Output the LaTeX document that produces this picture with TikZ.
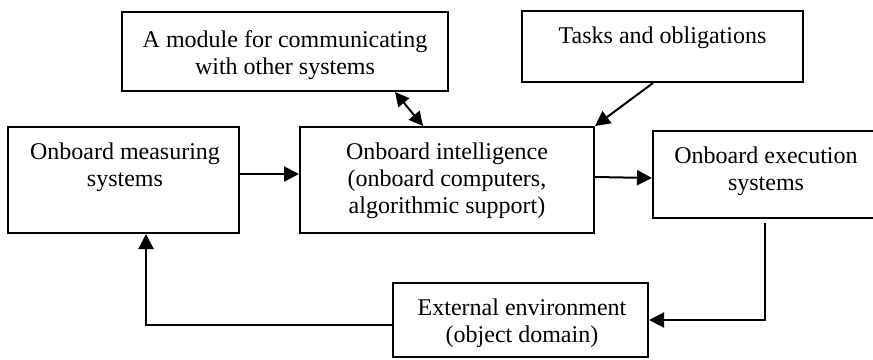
\documentclass[tikz,border=0pt]{standalone}
\usepackage{fontspec}
\setmainfont{Liberation Serif}
\usetikzlibrary{arrows.meta}
\begin{document}
\begin{tikzpicture}[x=0.5pt,y=-0.5pt,
  box/.style={draw, line width=1pt, inner sep=0pt, rectangle},
  lbl/.style={align=center, inner sep=0pt, font=\fontsize{12}{13.5}\selectfont, anchor=base},
  arr/.style={line width=1pt, -{Triangle[length=7.5pt,width=7.5pt]}},
  darr/.style={line width=1pt, {Triangle[length=7pt,width=7pt]}-{Triangle[length=7pt,width=7pt]}}]
\useasboundingbox (0,0) rectangle (873,359);
% boxes
\node[box, minimum width=163pt, minimum height=39.5pt] (mod) at (285,51.5) {};
\node[box, minimum width=140.5pt, minimum height=35.5pt] (task) at (662.5,46.5) {};
\node[box, minimum width=115.5pt, minimum height=53pt] (meas) at (123.5,180) {};
\node[box, minimum width=147pt, minimum height=53pt] (intel) at (447,180) {};
\node[box, minimum width=112pt, minimum height=43.5pt] (exec) at (765,174.5) {};
\node[box, minimum width=127.5pt, minimum height=37pt] (ext) at (520.5,320) {};
% labels (anchor base = last line baseline)
\node[lbl] (modt) at (285,74) {A module for communicating\\with other systems};
\node[lbl] (taskt) at (662.5,43) {Tasks and obligations};
\node[lbl] (meast) at (125,186) {Onboard measuring\\systems};
\node[lbl] (intelt) at (447,213) {Onboard intelligence\\(onboard computers,\\algorithmic support)};
\node[lbl] (exect) at (766,190) {Onboard execution\\systems};
\node[lbl] (extt) at (522,342) {External environment\\(object domain)};
% connectors
\draw[darr] (mod.south -| 395,0) -- (intel.north -| 423,0);
\draw[arr] (task.south -| 653,0) -- (intel.north east);
\draw[arr] (meas.east |- 0,174) -- (intel.west |- 0,174);
\draw[arr] (intel.east |- 0,177) -- (exec.west |- 0,178);
\draw[arr] ([yshift=-2pt]exec.south) |- (ext.east);
\draw[arr] (ext.west |- 0,325) -| (meas.south -| 146,0);
\end{tikzpicture}
\end{document}
